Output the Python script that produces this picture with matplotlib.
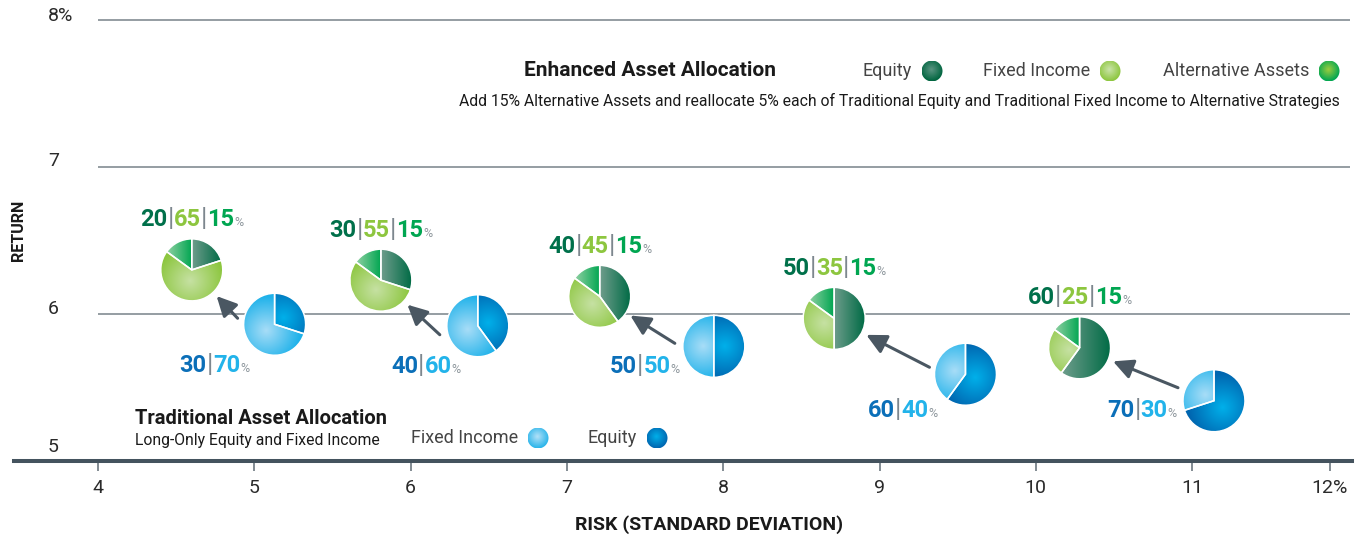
import numpy as np
import matplotlib.pyplot as plt
from matplotlib.colors import to_rgb
from matplotlib.patches import Circle

plt.rcParams['font.family'] = ['Roboto', 'DejaVu Sans']

# ---- data ----
risk_ticks = [4, 5, 6, 7, 8, 9, 10, 11, 11.88]   # the source squeezes the last tick
risk_labels = ['4', '5', '6', '7', '8', '9', '10', '11', '12%']
return_ticks = [5, 6, 7, 8]
return_labels = ['5', '6', '7', '8%']

trad_equity = [30, 40, 50, 60, 70]
trad_fixed = [70, 60, 50, 40, 30]
trad_risk = [5.13, 6.43, 7.94, 9.55, 11.14]
trad_return = [5.93, 5.92, 5.78, 5.59, 5.41]

enh_equity = [20, 30, 40, 50, 60]
enh_fixed = [65, 55, 45, 35, 25]
enh_alt = [15, 15, 15, 15, 15]
enh_risk = [4.60, 5.81, 7.21, 8.71, 10.28]
enh_return = [6.30, 6.23, 6.12, 5.97, 5.77]

# ---- layout (pixels) ----
W, H = 1362, 537
PIE_R = 31
ytick_dy = [14.5, 4.5, 6, 3.5]              # label lift above each grid line
trad_lab_dx = [-25, -17, -34, -28, -37]     # right edge of blue labels vs pie centre
trad_lab_dy = [-39, -39, -18, -34, -8]      # label centre vs pie centre
arrow_start = [(-37, 6), (-38, -9), (-39, 3), (-36, 7), (-36, 13)]

# ---- colours ----
DARK_GREEN, LIGHT_GREEN, GREEN = '#00704a', '#8dc63f', '#00a651'
DARK_BLUE, LIGHT_BLUE = '#0b6fb8', '#22b3ea'
SEP, PCT = '#7d878e', '#8e979d'
ARROW = '#4a5762'

enh_fills = [('linear', '#6f9d8c', '#006b45'),
             ('radial', '#c6e1a3', '#8cc63e'),
             ('linear', '#8fd0a2', '#00a651')]
trad_fills = [('radial', '#00b0ea', '#0066b0'),
              ('radial', '#a8ddf7', '#1fb2ea')]

fig = plt.figure(figsize=(W / 100, H / 100), dpi=100)
ax = fig.add_axes([14 / W, 76 / H, 1338 / W, 449 / H])
ax.set_xlim(3.4626, 12.023)
ax.set_ylim(5, 8.054)
PX = 1338 / (12.023 - 3.4626)
PY = 449 / (8.054 - 5)

for s in ['top', 'left', 'right']:
    ax.spines[s].set_visible(False)
ax.spines['bottom'].set_color('#44535e')
ax.spines['bottom'].set_linewidth(2.9)
ax.hlines([6, 7, 8], 4, 12.01, color='#8c959b', lw=1.3, zorder=0)

ax.set_yticks([])
ax.set_xticks(risk_ticks)
ax.set_xticklabels(risk_labels, fontsize=14, color='#2a2a2a')
ax.tick_params(axis='x', length=7, width=1.2, color='#6d7880', pad=6)

for v, lab, dy in zip(return_ticks, return_labels, ytick_dy):
    ax.text(4 - 50 / PX, v + dy / PY, lab, fontsize=14, color='#2a2a2a',
            ha='left', va='center')


def ftext(x, y, s, **kw):
    return fig.text(x / W, 1 - y / H, s, **kw)


ftext(19, 230, 'RETURN', rotation=90, fontsize=11.5, fontweight='bold',
      ha='center', va='center', color='#1a1a1a')
ftext(709, 525, 'RISK (STANDARD DEVIATION)', fontsize=14, fontweight='bold',
      ha='center', va='center', color='#1a1a1a')


def gradient(pax, patch, kind, c_a, c_b, center=(0, 0), x0=-1, x1=1):
    xs = np.linspace(-1, 1, 160)
    X, Y = np.meshgrid(xs, xs)
    if kind == 'radial':
        t = np.clip(np.hypot(X - center[0], Y - center[1]) / 1.1, 0, 1)
    else:
        t = np.clip((X - x0) / (x1 - x0), 0, 1)
    ca, cb = np.array(to_rgb(c_a)), np.array(to_rgb(c_b))
    img = ca + (cb - ca) * t[..., None]
    im = pax.imshow(img, extent=(-1, 1, -1, 1), origin='lower',
                    interpolation='bilinear', zorder=1)
    im.set_clip_path(patch)


def pie_at(x, y, values, fills):
    cx, cy = ax.transData.transform((x, y))
    pax = fig.add_axes([(cx - PIE_R) / W, (cy - PIE_R) / H, 2 * PIE_R / W, 2 * PIE_R / H])
    wedges, _ = pax.pie(values, startangle=90, counterclock=False, radius=1,
                        wedgeprops=dict(edgecolor='white', linewidth=1.1,
                                        facecolor='none', zorder=2))
    for w, (kind, ca, cb) in zip(wedges, fills):
        ang = np.radians(np.linspace(w.theta1, w.theta2, 60))
        xs = np.r_[np.cos(ang), 0]
        mid = np.radians((w.theta1 + w.theta2) / 2)
        gradient(pax, w, kind, ca, cb, center=(0.35 * np.cos(mid), 0.35 * np.sin(mid)),
                 x0=xs.min(), x1=xs.max())
    pax.set_xlim(-1, 1)
    pax.set_ylim(-1, 1)
    pax.axis('off')


def disc_at(px, py, c_center, c_edge, r=10.5):
    dax = fig.add_axes([(px - r) / W, 1 - (py + r) / H, 2 * r / W, 2 * r / H])
    c = Circle((0, 0), 1, facecolor='none', edgecolor='none')
    dax.add_patch(c)
    gradient(dax, c, 'radial', c_center, c_edge, center=(-0.1, 0.1))
    dax.set_xlim(-1, 1)
    dax.set_ylim(-1, 1)
    dax.axis('off')


renderer = fig.canvas.get_renderer()


def label_parts(x, y, parts, ha, dx, dy):
    items = []
    for s, col, size, weight in parts:
        t = ax.annotate(s, (x, y), xytext=(0, 0), textcoords='offset pixels',
                        color=col, fontsize=size, fontweight=weight,
                        ha='left', va='baseline')
        items.append((t, t.get_window_extent(renderer).width))
    total = sum(w for _, w in items)
    pos = dx - (total / 2 if ha == 'center' else total)
    for t, w in items:
        t.xyann = (pos, dy)
        pos += w


# enhanced (green) pies
for x, y, e, f, a in zip(enh_risk, enh_return, enh_equity, enh_fixed, enh_alt):
    pie_at(x, y, [e, f, a], enh_fills)
    label_parts(x, y, [(str(e), DARK_GREEN, 17, 'bold'), ('|', SEP, 19, 'normal'),
                       (str(f), LIGHT_GREEN, 17, 'bold'), ('|', SEP, 19, 'normal'),
                       (str(a), GREEN, 17, 'bold'), ('%', PCT, 9, 'normal')],
                'center', 0, 43.5)

# traditional (blue) pies, labels and arrows
for i, (x, y, e, f) in enumerate(zip(trad_risk, trad_return, trad_equity, trad_fixed)):
    pie_at(x, y, [e, f], trad_fills)
    label_parts(x, y, [(str(e), DARK_BLUE, 17, 'bold'), ('|', SEP, 19, 'normal'),
                       (str(f), LIGHT_BLUE, 17, 'bold'), ('%', PCT, 9, 'normal')],
                'right', trad_lab_dx[i], trad_lab_dy[i] - 8.5)
    sx, sy = arrow_start[i]
    ax.annotate('', xy=(enh_risk[i], enh_return[i]),
                xytext=(x + sx / PX, y + sy / PY),
                arrowprops=dict(arrowstyle='-|>,head_length=0.6,head_width=0.3',
                                color=ARROW, lw=2.2, shrinkA=0, shrinkB=26,
                                mutation_scale=20))

# enhanced legend block
ftext(524, 71, 'Enhanced Asset Allocation', fontsize=15, fontweight='bold',
      va='center', color='#1a1a1a')
for lab, px, cc, ce in [('Equity', 932, '#5a9582', '#00653f'),
                        ('Fixed Income', 1110, '#cbe4aa', '#8dc63f'),
                        ('Alternative Assets', 1329, '#9ccd3f', '#00a651')]:
    ftext(px - 20, 71, lab, fontsize=13, ha='right', va='center', color='#444444')
    disc_at(px, 71, cc, ce)
ftext(1340, 101, 'Add 15% Alternative Assets and reallocate 5% each of Traditional Equity '
      'and Traditional Fixed Income to Alternative Strategies',
      fontsize=11.3, ha='right', va='center', color='#1a1a1a')

# traditional legend block
ftext(135, 418, 'Traditional Asset Allocation', fontsize=14.5, fontweight='bold',
      va='center', color='#1a1a1a')
ftext(135, 440, 'Long-Only Equity and Fixed Income', fontsize=11.3,
      va='center', color='#1a1a1a')
for lab, px, cc, ce in [('Fixed Income', 538, '#b3e1f8', '#2bb5ea'),
                        ('Equity', 657, '#00b0ea', '#0066b0')]:
    ftext(px - 20, 438, lab, fontsize=13, ha='right', va='center', color='#444444')
    disc_at(px, 438, cc, ce)

fig.savefig('out.png', dpi=100, facecolor='white')
